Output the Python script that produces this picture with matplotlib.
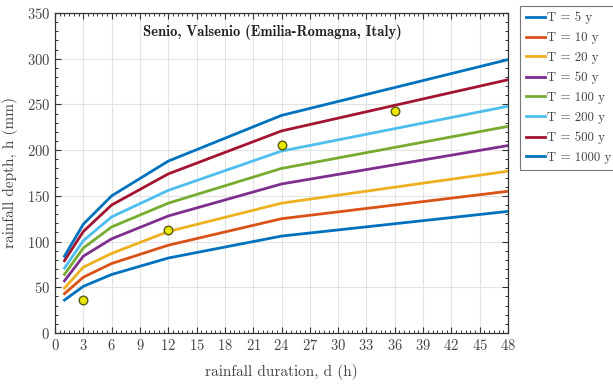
import numpy as np
import matplotlib
matplotlib.use("Agg")
import matplotlib.pyplot as plt
from matplotlib.ticker import MultipleLocator

# --- data ---
durations = [1, 3, 6, 12, 24, 48]  # h
T_labels = ['T = 5 y', 'T = 10 y', 'T = 20 y', 'T = 50 y',
            'T = 100 y', 'T = 200 y', 'T = 500 y', 'T = 1000 y']
h_T5 = [36, 51, 64, 82, 106, 133]
h_T10 = [43, 61, 76, 96, 125, 155]
h_T20 = [49, 72, 87, 111, 142, 177]
h_T50 = [57, 84, 103, 128, 163, 205]
h_T100 = [64, 93, 116, 142, 180, 226]
h_T200 = [71, 101, 127, 156, 199, 248]
h_T500 = [79, 111, 140, 174, 221, 277]
h_T1000 = [84, 119, 150, 188, 238, 299]
curves = [h_T5, h_T10, h_T20, h_T50, h_T100, h_T200, h_T500, h_T1000]

obs_d = [3, 12, 24, 36]
obs_h = [36, 113, 206, 243]

# matlab default colour order (8th wraps round)
colors = ['#0072BD', '#D95319', '#EDB120', '#7E2F8E',
          '#77AC30', '#4DBEEE', '#A2142F', '#0072BD']

plt.rcParams['font.family'] = ['cmr10', 'DejaVu Serif']
plt.rcParams['axes.formatter.use_mathtext'] = True

fig = plt.figure(figsize=(6.13, 3.85), dpi=100)
ax = fig.add_axes([55/613, 1 - 333/385, 453/613, 320/385])

lines = []
for h, c, lab in zip(curves, colors, T_labels):
    ln, = ax.plot(durations, h, color=c, lw=2.0, label=lab, zorder=3)
    lines.append(ln)

ax.scatter(obs_d, obs_h, s=38, facecolor='#E8E800', edgecolor='#5a5a10',
           linewidth=1.0, zorder=4)

ax.set_xlim(0, 48)
ax.set_ylim(0, 350)
ax.xaxis.set_major_locator(MultipleLocator(3))
ax.xaxis.set_minor_locator(MultipleLocator(0.5))
ax.yaxis.set_major_locator(MultipleLocator(50))
ax.yaxis.set_minor_locator(MultipleLocator(10))
ax.tick_params(which='both', direction='in', top=True, right=True,
               colors='#333333', labelcolor='#444444', labelsize=10.5)
ax.tick_params(which='major', length=4, width=0.8)
ax.tick_params(which='minor', length=2.2, width=0.7)
for s in ax.spines.values():
    s.set_color('#333333')
    s.set_linewidth(0.9)
ax.grid(True, which='major', color='#e3e3e3', lw=0.8, zorder=0)

ax.set_xlabel('rainfall duration, d (h)', fontsize=11, color='#444444', labelpad=8)
ax.set_ylabel('rainfall depth, h (mm)', fontsize=11, color='#444444', labelpad=6)

ax.text(0.48, 0.94, 'Senio, Valsenio (Emilia-Romagna, Italy)',
        transform=ax.transAxes, ha='center', va='center',
        fontsize=10.5, family=['cmb10', 'DejaVu Serif'], color='#222222')

leg = fig.legend(handles=lines, loc='upper left',
                 bbox_to_anchor=(520/613, 1 - 6/385), fontsize=9.3,
                 fancybox=False, edgecolor='#777777', framealpha=1,
                 handlelength=1.5, handletextpad=0.15, labelspacing=0.6,
                 borderpad=0.45, borderaxespad=0, labelcolor='#444444')
leg.get_frame().set_linewidth(0.8)

fig.savefig('out.png', dpi=100)
